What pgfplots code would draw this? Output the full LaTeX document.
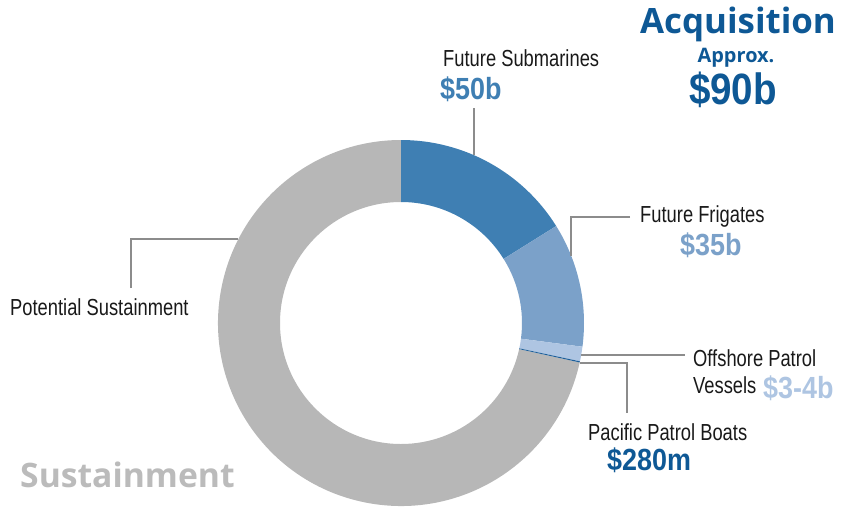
\documentclass[border=0pt]{standalone}
\usepackage{pgfplots}
\pgfplotsset{compat=1.18}
\usepackage{pgfplotstable}
\usepackage{fontspec}
\setmainfont{Liberation Sans}[FakeStretch=0.79]
\newfontfamily\condb{Liberation Sans}[FakeStretch=0.88]
\newfontfamily\opensans{Open Sans}

\definecolor{seg0}{HTML}{3F7FB3}
\definecolor{seg1}{HTML}{7BA1C9}
\definecolor{seg2}{HTML}{AEC5E2}
\definecolor{seg3}{HTML}{1D5F9A}
\definecolor{seg4}{HTML}{B7B7B7}
\definecolor{darkblue}{HTML}{0E5895}
\definecolor{leader}{HTML}{8C8C8C}
\definecolor{susttext}{HTML}{BBBBBB}

% values in $b, clockwise from the top
\pgfplotstableread{
label value
Submarines 50
Frigates 34
OPV 4
PPB 0.3
Sustainment 222
}\donut

\def\cx{401}\def\cy{323}\def\ro{183}\def\ri{121}
\def\setg#1#2{\expandafter\xdef\csname#1\endcsname{#2}}

\begin{document}
\begin{tikzpicture}
% total and segment angles
\gdef\total{0}
\foreach \i in {0,...,4}{%
  \pgfplotstablegetelem{\i}{value}\of\donut
  \pgfmathsetmacro\t{\total+\pgfplotsretval}%
  \xdef\total{\t}}
\gdef\cum{0}
\foreach \i in {0,...,4}{%
  \pgfplotstablegetelem{\i}{value}\of\donut
  \pgfmathsetmacro\a{90-(\cum/\total)*360}%
  \pgfmathsetmacro\c{\cum+\pgfplotsretval}%
  \xdef\cum{\c}%
  \pgfmathsetmacro\b{90-(\cum/\total)*360}%
  \setg{sa\i}{\a}\setg{ea\i}{\b}%
  \pgfmathsetmacro\tmp{\cx+\ro*cos(\a)}\setg{oxa\i}{\tmp}%
  \pgfmathsetmacro\tmp{\cy-\ro*sin(\a)}\setg{oya\i}{\tmp}%
  \pgfmathsetmacro\tmp{\cx+\ri*cos(\b)}\setg{ixb\i}{\tmp}%
  \pgfmathsetmacro\tmp{\cy-\ri*sin(\b)}\setg{iyb\i}{\tmp}%
}
\begin{axis}[hide axis, scale only axis, width=841bp, height=506bp,
  xmin=0, xmax=841, ymin=0, ymax=506, y dir=reverse, clip=false]
\path (axis cs:0,0) rectangle (axis cs:841,506);
\pgfplotsinvokeforeach{4,0,1,2,3}{
  \fill[seg#1] (axis cs:\csname oxa#1\endcsname,\csname oya#1\endcsname)
    arc[start angle=\csname sa#1\endcsname, end angle=\csname ea#1\endcsname, radius=\ro bp]
    -- (axis cs:\csname ixb#1\endcsname,\csname iyb#1\endcsname)
    arc[start angle=\csname ea#1\endcsname, end angle=\csname sa#1\endcsname, radius=\ri bp]
    -- cycle;
}
% leader lines
\draw[leader, line width=1.1bp] (axis cs:474,108) -- (axis cs:474,155);
\draw[leader, line width=1.1bp] (axis cs:630,217) -- (axis cs:571,217) -- (axis cs:571,256);
\draw[leader, line width=1.1bp] (axis cs:581,355) -- (axis cs:685,355);
\draw[leader, line width=1.1bp] (axis cs:580,363) -- (axis cs:627,363) -- (axis cs:627,413);
\draw[leader, line width=1.1bp] (axis cs:131,288) -- (axis cs:131,239) -- (axis cs:238,239);
% labels
\tikzset{lab/.style={anchor=base west, inner sep=0pt, font=\fontsize{23.3}{26}\selectfont, text=black!90},
  amt/.style={anchor=base west, inner sep=0pt, font=\condb\bfseries\fontsize{30.7}{32}\selectfont}}
\node[lab] at (axis cs:443,66) {Future Submarines};
\node[amt, text=seg0] at (axis cs:440,99) {\$50b};
\node[lab] at (axis cs:640,222) {Future Frigates};
\node[amt, text=seg1] at (axis cs:680,255) {\$35b};
\node[lab] at (axis cs:693,366) {Offshore Patrol};
\node[lab] at (axis cs:693,393) {Vessels};
\node[amt, text=seg2] at (axis cs:763,398) {\$3-4b};
\node[lab] at (axis cs:588,440) {Pacific Patrol Boats};
\node[amt, text=darkblue] at (axis cs:607,470) {\$280m};
\node[lab] at (axis cs:10,315) {Potential Sustainment};
\node[anchor=base, inner sep=0pt, text=darkblue, font=\opensans\bfseries\fontsize{35}{38}\selectfont] at (axis cs:738,33) {Acquisition};
\node[anchor=base, inner sep=0pt, text=darkblue, font=\opensans\bfseries\fontsize{20}{22}\selectfont] at (axis cs:736,62) {Approx.};
\node[anchor=base, inner sep=0pt, text=darkblue, font=\condb\bfseries\fontsize{44}{46}\selectfont] at (axis cs:733,104) {\$90b};
\node[anchor=base west, inner sep=0pt, text=susttext, font=\opensans\bfseries\fontsize{33.8}{36}\selectfont] at (axis cs:20,487) {Sustainment};
\end{axis}
\end{tikzpicture}
\end{document}
